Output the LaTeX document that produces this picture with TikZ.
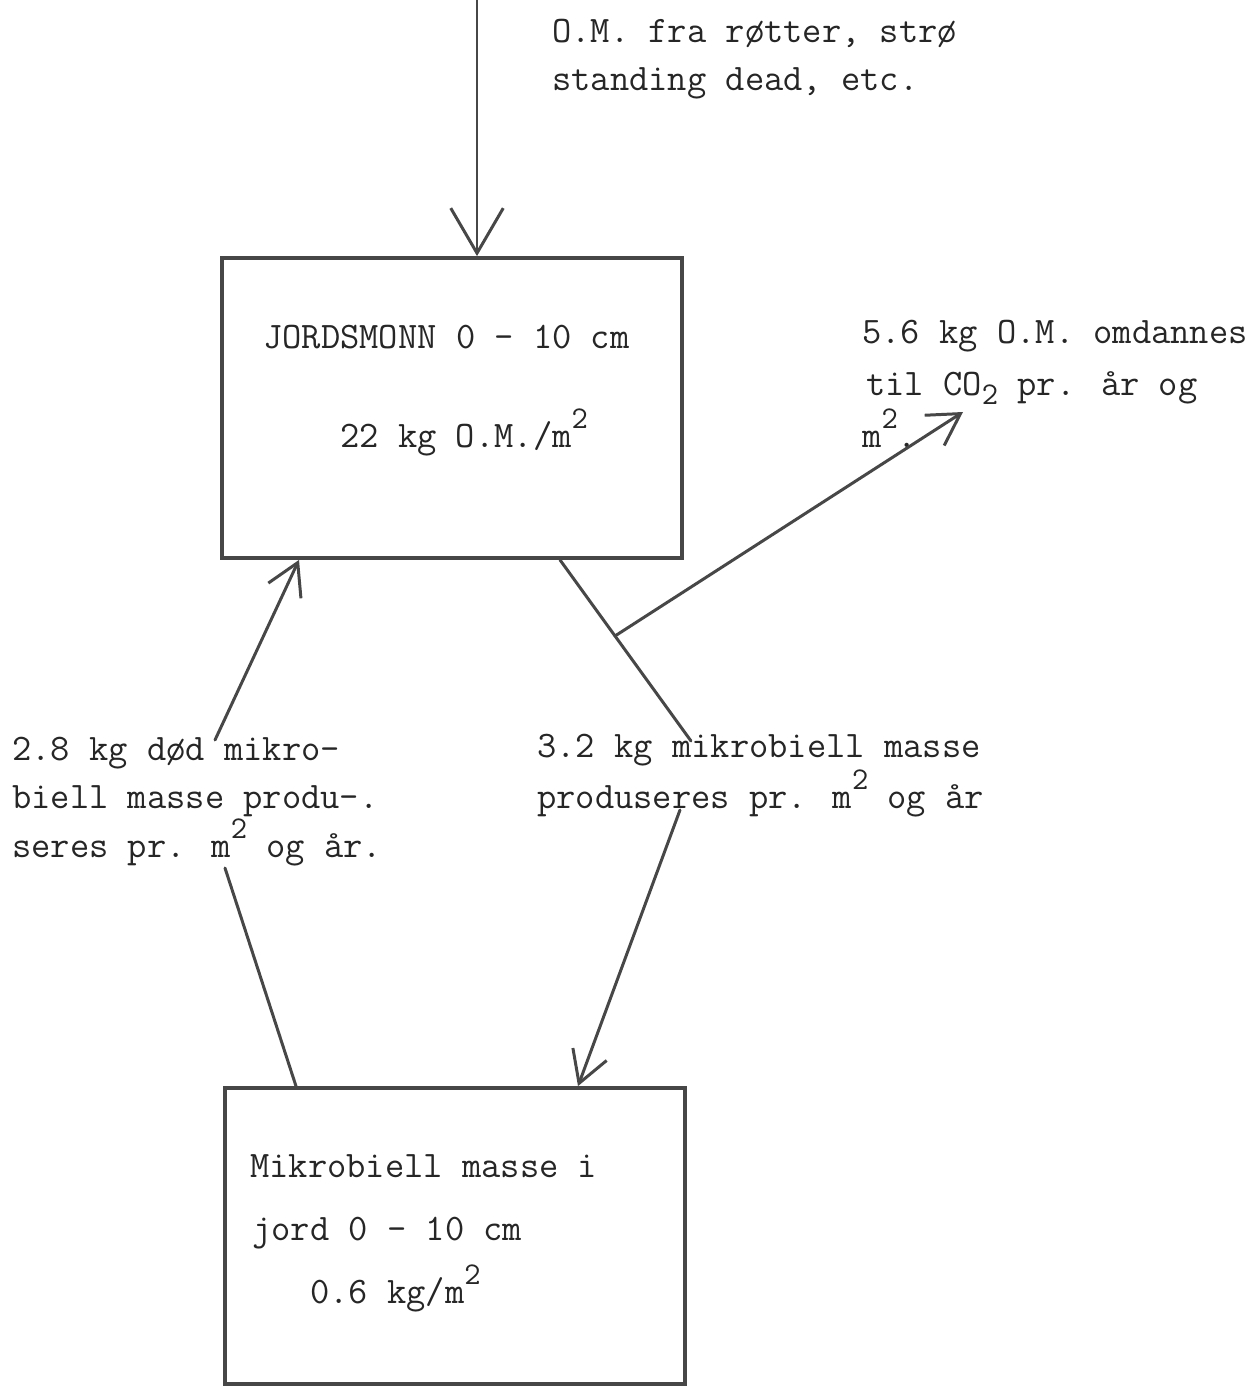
\documentclass[tikz,border=0pt]{standalone}
\usepackage{fontspec}
\usetikzlibrary{arrows.meta,calc}
\newcommand\myup[1]{\raisebox{0.5em}{\fontsize{18pt}{18pt}\selectfont #1}}
\newcommand\mydown[1]{\raisebox{-0.25em}{\fontsize{18pt}{18pt}\selectfont #1}}
\tikzset{
  box/.style={draw=black!72, line width=2.2pt, minimum width=9.2cm, inner sep=0pt},
  flow/.style={draw=black!72, line width=1.7pt, line cap=round},
  bigv/.style={-{Straight Barb[length=0.9cm, width=1.05cm, line width=1.7pt]}},
  smallv/.style={-{Straight Barb[length=0.62cm, width=0.72cm, line width=1.7pt]}},
  txt/.style={font=\ttfamily\fontsize{21.3pt}{27pt}\selectfont, text=black!85, inner sep=0pt, anchor=base west}
}
\begin{document}
\begin{tikzpicture}[x=0.02cm, y=-0.02cm]
\useasboundingbox[fill=white] (0,0) rectangle (1252,1387);

% boxes
\node[box, minimum height=6cm] (top) at (452,408) {};
\node[box, minimum height=5.92cm] (bot) at (455,1236) {};

% texts
\node[txt] (t1a) at (552,42) {O.M. fra røtter, strø};
\node[txt] (t1b) at (552,90) {standing dead, etc.};

\node[txt] (b1a) at (263,348) {JORDSMONN 0 - 10 cm};
\node[txt] (b1b) at (340,447) {22 kg O.M./m\myup{2}};

\node[txt] (r1) at (862,343) {5.6 kg O.M. omdannes};
\node[txt] (r2) at (866,395) {til CO\mydown{2} pr. år og};
\node[txt] (r3) at (862,447) {m\myup{2}.};

\node[txt] (l1) at (12,760) {2.8 kg død mikro-};
\node[txt] (l2) at (12,808) {biell masse produ-.};
\node[txt] (l3) at (12,857) {seres pr. m\myup{2} og år.};

\node[txt] (m1) at (537,757) {3.2 kg mikrobiell masse};
\node[txt] (m2) at (537,808) {produseres pr. m\myup{2} og år};

\node[txt] (k1) at (250,1177) {Mikrobiell masse i};
\node[txt] (k2) at (252,1240) {jord 0 - 10 cm};
\node[txt] (k3) at (310,1303) {0.6 kg/m\myup{2}};

% connectors
\coordinate (omsrc) at (477,0);
\draw[flow, bigv] (omsrc) -- (omsrc |- top.north);

\coordinate (outA) at (560,0 |- top.south);
\coordinate (outEnd) at (691,741);
\coordinate (split) at ($(outA)!0.42!(outEnd)$);
\coordinate (co2) at (963,412);
\draw[flow] (outA) -- (outEnd);
\draw[flow, smallv] (split) -- (co2);

\coordinate (prodStart) at (680,810);
\draw[flow, smallv] (prodStart) -- (578,0 |- bot.north);

\coordinate (deadLow) at (225,868);
\draw[flow] (296,0 |- bot.north) -- (deadLow);
\coordinate (deadUp) at (215,740);
\draw[flow, smallv] (deadUp) -- (299,0 |- top.south);
\end{tikzpicture}
\end{document}
